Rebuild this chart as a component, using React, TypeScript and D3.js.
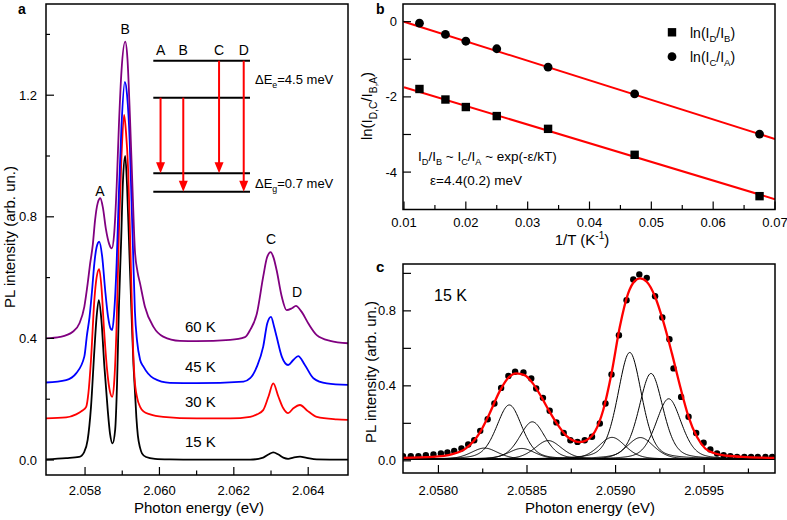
import React from 'react';
import * as d3 from 'd3';

// ---------------- Panel a : PL spectra (energy eV, intensity) ----------------
const tempLabels = ['15 K', '30 K', '45 K', '60 K'];
const spec15K: [number, number][] = [
  [2.05695, 0.002], [2.05749, 0.006], [2.05784, 0.010], [2.05798, 0.027], [2.05807, 0.066], [2.05816, 0.175],
  [2.05825, 0.36], [2.05831, 0.47], [2.05837, 0.526], [2.05844, 0.46], [2.05852, 0.307], [2.05861, 0.164],
  [2.05867, 0.088], [2.05874, 0.055], [2.05881, 0.10], [2.05886, 0.25], [2.05891, 0.5], [2.05897, 0.72],
  [2.05902, 0.92], [2.05908, 1.0], [2.05913, 0.9], [2.05919, 0.69], [2.05925, 0.48], [2.0593, 0.32],
  [2.05934, 0.23], [2.05938, 0.14], [2.05942, 0.08], [2.05948, 0.04], [2.05953, 0.022], [2.05964, 0.01],
  [2.05988, 0.004], [2.06028, 0.002], [2.061, 0.001], [2.06244, 0.001], [2.06279, 0.008], [2.06293, 0.018],
  [2.06306, 0.025], [2.0632, 0.018], [2.06333, 0.008], [2.06346, 0.004], [2.0636, 0.008], [2.06378, 0.011],
  [2.06396, 0.007], [2.06423, 0.002], [2.06507, 0.001],
];
const spec30K: [number, number][] = [
  [2.05695, 0.137], [2.05749, 0.14], [2.05776, 0.15], [2.05792, 0.162], [2.05803, 0.175], [2.05809, 0.22],
  [2.05816, 0.33], [2.05825, 0.526], [2.05831, 0.6], [2.05838, 0.628], [2.05844, 0.57], [2.05851, 0.43],
  [2.05859, 0.3], [2.05867, 0.225], [2.05873, 0.208], [2.05878, 0.25], [2.05885, 0.45], [2.05891, 0.75],
  [2.05898, 1.0], [2.05905, 1.135], [2.0591, 1.08], [2.05916, 0.95], [2.05921, 0.74], [2.05925, 0.55],
  [2.05929, 0.37], [2.05933, 0.27], [2.0594, 0.205], [2.05948, 0.175], [2.05957, 0.16], [2.05975, 0.15],
  [2.0601, 0.142], [2.061, 0.137], [2.0619, 0.137], [2.06244, 0.142], [2.06262, 0.15], [2.06279, 0.164],
  [2.06293, 0.208], [2.06306, 0.252], [2.0632, 0.208], [2.06333, 0.17], [2.06346, 0.154], [2.0636, 0.17],
  [2.06378, 0.181], [2.06396, 0.164], [2.06423, 0.142], [2.06477, 0.134], [2.06507, 0.132],
];
const spec45K: [number, number][] = [
  [2.05695, 0.255], [2.05749, 0.263], [2.05776, 0.285], [2.05798, 0.34], [2.05805, 0.41], [2.05812, 0.47],
  [2.05819, 0.56], [2.05825, 0.647], [2.05831, 0.7], [2.05838, 0.718], [2.05846, 0.67], [2.05854, 0.56],
  [2.05862, 0.47], [2.05869, 0.432], [2.05873, 0.428], [2.05878, 0.48], [2.05885, 0.65], [2.05891, 0.88],
  [2.05898, 1.1], [2.05907, 1.244], [2.05913, 1.2], [2.0592, 1.05], [2.05925, 0.85], [2.05929, 0.69],
  [2.05934, 0.49], [2.0594, 0.39], [2.05948, 0.33], [2.05957, 0.307], [2.05984, 0.269], [2.06028, 0.254],
  [2.061, 0.253], [2.06226, 0.258], [2.06244, 0.269], [2.06262, 0.307], [2.06279, 0.373], [2.0629, 0.45],
  [2.063, 0.471], [2.06308, 0.44], [2.06315, 0.406], [2.06329, 0.34], [2.06346, 0.3125], [2.0636, 0.329],
  [2.06373, 0.342], [2.06391, 0.3125], [2.06414, 0.269], [2.0645, 0.252], [2.06507, 0.247],
];
const spec60K: [number, number][] = [
  [2.05695, 0.4], [2.05733, 0.405], [2.05767, 0.422], [2.05785, 0.45], [2.05798, 0.504], [2.05807, 0.58],
  [2.05813, 0.64], [2.05821, 0.71], [2.05827, 0.79], [2.05834, 0.845], [2.05841, 0.861], [2.05848, 0.83],
  [2.05856, 0.76], [2.05865, 0.71], [2.05872, 0.696], [2.05878, 0.74], [2.05885, 0.9], [2.05891, 1.1],
  [2.05898, 1.28], [2.05908, 1.376], [2.05914, 1.32], [2.05921, 1.12], [2.05928, 0.88], [2.05934, 0.69],
  [2.05941, 0.62], [2.05948, 0.58], [2.05961, 0.504], [2.05984, 0.438], [2.0601, 0.406], [2.06055, 0.392],
  [2.061, 0.391], [2.0619, 0.395], [2.0623, 0.404], [2.06244, 0.428], [2.06262, 0.482], [2.06279, 0.603],
  [2.06289, 0.665], [2.06299, 0.684], [2.06307, 0.665], [2.06315, 0.625], [2.06329, 0.537], [2.06342, 0.493],
  [2.06356, 0.499], [2.06367, 0.507], [2.06382, 0.488], [2.064, 0.45], [2.06423, 0.411], [2.06459, 0.392],
  [2.06507, 0.384],
];
const spectra = [spec15K, spec30K, spec45K, spec60K];
const aXTicks = [2.058, 2.06, 2.062, 2.064];
const aXMinor = [2.059, 2.061, 2.063];
const aYTicks = [0, 0.4, 0.8, 1.2];
const aYMinor = [0.2, 0.6, 1.0, 1.4];
const peakNames = ['A', 'B', 'C', 'D'];
const peakLabelPos: [number, number][] = [[2.05840, 0.87], [2.05908, 1.40], [2.06300, 0.71], [2.06370, 0.535]];
const tempLabelPos: [number, number][] = [[2.0611, 0.043], [2.0611, 0.174], [2.0611, 0.29], [2.0611, 0.42]];

// level diagram (schematic inset)
const levelFrac = [0, 0.2824, 0.8595, 1.0];
const transitionNames = ['A', 'B', 'C', 'D'];
const transitionX = [0.075, 0.31, 0.68, 0.935];
const transitionFrom = [1, 1, 0, 0];
const transitionTo = [2, 3, 2, 3];

// ---------------- Panel b : Arrhenius ----------------
const invT = [0.0125, 0.0167, 0.02, 0.025, 0.0333, 0.0473, 0.0675];
const lnDB = [-1.79, -2.07, -2.27, -2.51, -2.85, -3.54, -4.64];
const lnCA = [-0.04, -0.34, -0.52, -0.72, -1.21, -1.92, -2.99];
const fitInvT = [0.01, 0.07];
const fitDB = [-1.745, -4.72];
const fitCA = [0.0, -3.12];
const bXTicks = [0.01, 0.02, 0.03, 0.04, 0.05, 0.06, 0.07];
const bXMinor = [0.015, 0.025, 0.035, 0.045, 0.055, 0.065];
const bYTicks = [0, -2, -4];
const bYMinor = [-1, -3];

// ---------------- Panel c : 15 K fit ----------------
const dotE = [
  2.0578, 2.057844, 2.057887, 2.057929, 2.057972, 2.058014, 2.058051, 2.058089, 2.05813, 2.058168, 2.058202,
  2.058236, 2.058278, 2.058316, 2.058354, 2.058395, 2.058433, 2.05848, 2.058524, 2.058552, 2.05859, 2.058628,
  2.058666, 2.058707, 2.058745, 2.058785, 2.058826, 2.058867, 2.058911, 2.058943, 2.058977, 2.059019, 2.059062,
  2.0591, 2.059134, 2.059176, 2.059223, 2.059264, 2.059304, 2.059327, 2.05937, 2.059412, 2.059455, 2.059497,
  2.059535, 2.059573, 2.05961, 2.059648, 2.059686, 2.059727, 2.059765, 2.059803, 2.059846, 2.059884,
];
const dotI = [
  0.025, 0.025, 0.025, 0.03, 0.034, 0.039, 0.045, 0.053, 0.066, 0.087, 0.11,
  0.16, 0.222, 0.306, 0.389, 0.453, 0.475, 0.471, 0.439, 0.386, 0.336, 0.267,
  0.205, 0.149, 0.11, 0.101, 0.11, 0.128, 0.199, 0.306, 0.461, 0.67, 0.857,
  0.967, 0.994, 0.976, 0.878, 0.765, 0.649, 0.493, 0.341, 0.235, 0.149, 0.096,
  0.061, 0.039, 0.03, 0.025, 0.021, 0.021, 0.021, 0.021, 0.021, 0.021,
];
const fitE = [
  2.0578, 2.057966, 2.058079, 2.058155, 2.058231, 2.058287, 2.058344, 2.058391, 2.058439, 2.058486, 2.058533,
  2.058581, 2.058628, 2.058675, 2.058722, 2.058769, 2.058798, 2.058836, 2.058883, 2.05893, 2.058977, 2.059024,
  2.059071, 2.059109, 2.059138, 2.059176, 2.059223, 2.05927, 2.059318, 2.059365, 2.059412, 2.059459, 2.059506,
  2.059563, 2.059629, 2.059742, 2.0599,
];
const fitI = [
  0.016, 0.021, 0.036, 0.066, 0.146, 0.249, 0.368, 0.439, 0.466, 0.457, 0.413,
  0.341, 0.261, 0.19, 0.133, 0.105, 0.1, 0.11, 0.155, 0.27, 0.466, 0.715,
  0.893, 0.96, 0.973, 0.955, 0.875, 0.741, 0.573, 0.395, 0.235, 0.128, 0.066,
  0.039, 0.027, 0.02, 0.016,
];
// fitted components (centre eV, height, FWHM eV)
const compCenter = [2.05826, 2.0584, 2.05847, 2.05853, 2.05862, 2.05898, 2.05908, 2.05914, 2.0592, 2.0593];
const compHeight = [0.06, 0.29, 0.058, 0.2, 0.1, 0.117, 0.57, 0.116, 0.458, 0.323];
const compFWHM = [0.00018, 0.00017, 0.00018, 0.00017, 0.00018, 0.00018, 0.00016, 0.00018, 0.00016, 0.00017];
const compBaseline = 0.008;
const compLorentzFrac = 0.35;
const cXTicks = [2.058, 2.0585, 2.059, 2.0595];
const cXMinor = [2.05825, 2.05875, 2.05925, 2.05975];
const cYTicks = [0, 0.4, 0.8];
const cYMinor = [0.2, 0.6, 1.0];

// ---------------- helpers ----------------
const FONT = 'Liberation Sans, Arial, Helvetica, sans-serif';
const colors = ['#000000', '#ff0000', '#0000ff', '#800080'];

type Seg = [string, string?];
function rich(segs: Seg[], fs: number) {
  let shift = 0;
  return segs.map(([t, k], i) => {
    const target = k === 'sub' ? fs * 0.32 : k === 'sup' ? -fs * 0.4 : 0;
    const dy = target - shift;
    shift = target;
    return (
      <tspan key={i} dy={dy !== 0 ? dy : undefined} fontSize={k ? fs * 0.68 : fs}>
        {t}
      </tspan>
    );
  });
}

function Frame({ x0, x1, y0, y1 }: { x0: number; x1: number; y0: number; y1: number }) {
  return <rect x={x0} y={y0} width={x1 - x0} height={y1 - y0} fill="none" stroke="#000" strokeWidth={1.5} />;
}

function Ticks(props: {
  xs: d3.ScaleLinear<number, number>; ys: d3.ScaleLinear<number, number>;
  xMajor: number[]; xMinor: number[]; yMajor: number[]; yMinor: number[];
  xFmt: (v: number) => string; yFmt: (v: number) => string;
  bottom: number; left: number; xLabY: number; yLabX: number; yMinorLen?: number;
}) {
  const { xs, ys, xMajor, xMinor, yMajor, yMinor, xFmt, yFmt, bottom, left, xLabY, yLabX } = props;
  const ymLen = props.yMinorLen ?? 4;
  return (
    <g>
      {xMajor.map((v) => (
        <g key={'xm' + v}>
          <line x1={xs(v)} x2={xs(v)} y1={bottom} y2={bottom - 8} stroke="#000" strokeWidth={1.2} />
          <text x={xs(v)} y={xLabY} textAnchor="middle" fontSize={13}>{xFmt(v)}</text>
        </g>
      ))}
      {xMinor.map((v) => (
        <line key={'xn' + v} x1={xs(v)} x2={xs(v)} y1={bottom} y2={bottom - 4.5} stroke="#000" strokeWidth={1.2} />
      ))}
      {yMajor.map((v) => (
        <g key={'ym' + v}>
          <line x1={left} x2={left + 8} y1={ys(v)} y2={ys(v)} stroke="#000" strokeWidth={1.2} />
          <text x={yLabX} y={ys(v) + 4.5} textAnchor="end" fontSize={13}>{yFmt(v)}</text>
        </g>
      ))}
      {yMinor.map((v) => (
        <line key={'yn' + v} x1={left} x2={left + ymLen} y1={ys(v)} y2={ys(v)} stroke="#000" strokeWidth={1.2} />
      ))}
    </g>
  );
}

export default function App() {
  // panel a
  const aL = 46, aR = 348, aT = 4, aB = 475;
  const xA = d3.scaleLinear().domain([2.05695, 2.06507]).range([aL, aR]);
  const yA = d3.scaleLinear().domain([-0.0493, 1.5]).range([aB, aT]);
  const lineA = d3.line<[number, number]>().x((d) => xA(d[0])).y((d) => yA(d[1])).curve(d3.curveMonotoneX);
  const dxs = d3.scaleLinear().domain([0, 1]).range([153.3, 250]);
  const dys = d3.scaleLinear().domain([0, 1]).range([60.7, 191.7]);

  // panel b
  const bL = 403, bR = 775, bT = 4, bB = 209.5;
  const xB = d3.scaleLinear().domain([0.01, 0.07]).range([404, 775]);
  const yB = d3.scaleLinear().domain([-5, 0.47]).range([209.7, 4]);

  // panel c
  const cL = 403, cR = 775, cT = 264, cB = 473;
  const xC = d3.scaleLinear().domain([2.0578, 2.0599]).range([cL, cR]);
  const yC = d3.scaleLinear().domain([-0.065, 1.05]).range([cB, cT]);
  const grid = d3.range(2.0578, 2.05990001, 0.000004);
  const pv = (e: number, c: number, h: number, w: number) => {
    const u = (e - c) / w;
    const g = Math.exp(-4 * Math.LN2 * u * u);
    const l = 1 / (1 + 4 * u * u);
    return compBaseline + h * (compLorentzFrac * l + (1 - compLorentzFrac) * g);
  };
  const lineC = d3.line<[number, number]>().x((d) => xC(d[0])).y((d) => yC(d[1]));
  const fitLine = d3.line<number>().x((_, i) => xC(fitE[i])).y((d) => yC(d)).curve(d3.curveMonotoneX);

  return (
    <svg width={787} height={520} style={{ position: 'absolute', left: 0, top: 0, background: '#fff' }}
      fontFamily={FONT}>
      <rect x={0} y={0} width={787} height={520} fill="#fff" />
      <defs>
        <clipPath id="clipA"><rect x={aL} y={aT} width={aR - aL} height={aB - aT} /></clipPath>
        <clipPath id="clipB"><rect x={bL} y={bT} width={bR - bL} height={bB - bT} /></clipPath>
        <clipPath id="clipC"><rect x={cL} y={cT} width={cR - cL} height={cB - cT} /></clipPath>
      </defs>

      {/* ---------- panel a ---------- */}
      <g clipPath="url(#clipA)">
        {spectra.map((s, i) => (
          <path key={i} d={lineA(s) || ''} fill="none" stroke={colors[i]} strokeWidth={1.8} strokeLinejoin="round" />
        ))}
      </g>
      <Frame x0={aL} x1={aR} y0={aT} y1={aB} />
      <Ticks xs={xA} ys={yA} xMajor={aXTicks} xMinor={aXMinor} yMajor={aYTicks} yMinor={aYMinor}
        xFmt={d3.format('.3f')} yFmt={d3.format('.1f')} bottom={aB} left={aL} xLabY={494.5} yLabX={37} />
      <text x={(aL + aR) / 2 + 2} y={513} textAnchor="middle" fontSize={15}>Photon energy (eV)</text>
      <text transform={`translate(15,${237}) rotate(-90)`} textAnchor="middle" fontSize={15}>PL intensity (arb. un.)</text>
      <text x={18} y={13.5} fontSize={14} fontWeight="bold">a</text>
      {peakNames.map((n, i) => (
        <text key={n} x={xA(peakLabelPos[i][0])} y={yA(peakLabelPos[i][1])} textAnchor="middle" fontSize={14}>{n}</text>
      ))}
      {tempLabels.map((t, i) => (
        <text key={t} x={xA(tempLabelPos[i][0])} y={yA(tempLabelPos[i][1])} textAnchor="middle" fontSize={15}>{t}</text>
      ))}
      {/* level diagram */}
      {levelFrac.map((f, i) => (
        <line key={'lv' + i} x1={dxs(0)} x2={dxs(1)} y1={dys(f)} y2={dys(f)} stroke="#000" strokeWidth={2} />
      ))}
      {transitionNames.map((n, i) => {
        const x = dxs(transitionX[i]);
        const y0 = dys(levelFrac[transitionFrom[i]]);
        const y1 = dys(levelFrac[transitionTo[i]]);
        return (
          <g key={'tr' + n}>
            <text x={x} y={55} textAnchor="middle" fontSize={14}>{n}</text>
            <line x1={x} x2={x} y1={y0} y2={y1 - 9} stroke="#ff0000" strokeWidth={2} />
            <polygon points={`${x - 4.5},${y1 - 11} ${x + 4.5},${y1 - 11} ${x},${y1}`} fill="#ff0000" />
          </g>
        );
      })}
      <text x={255} y={84} fontSize={13}>{rich([['ΔE'], ['e', 'sub'], ['=4.5 meV']], 13)}</text>
      <text x={255} y={188} fontSize={13}>{rich([['ΔE'], ['g', 'sub'], ['=0.7 meV']], 13)}</text>

      {/* ---------- panel b ---------- */}
      <g clipPath="url(#clipB)">
        <line x1={xB(fitInvT[0])} x2={xB(fitInvT[1])} y1={yB(fitCA[0])} y2={yB(fitCA[1])} stroke="#ff0000" strokeWidth={2} />
        <line x1={xB(fitInvT[0])} x2={xB(fitInvT[1])} y1={yB(fitDB[0])} y2={yB(fitDB[1])} stroke="#ff0000" strokeWidth={2} />
        {invT.map((t, i) => (
          <rect key={'sq' + i} x={xB(t) - 4.2} y={yB(lnDB[i]) - 4.2} width={8.4} height={8.4} fill="#000" />
        ))}
        {invT.map((t, i) => (
          <circle key={'ci' + i} cx={xB(t)} cy={yB(lnCA[i])} r={4.4} fill="#000" />
        ))}
      </g>
      <Frame x0={bL} x1={bR} y0={bT} y1={bB} />
      <Ticks xs={xB} ys={yB} xMajor={bXTicks} xMinor={bXMinor} yMajor={bYTicks} yMinor={bYMinor}
        xFmt={d3.format('.2f')} yFmt={(v) => (v === 0 ? '0' : String(v))} bottom={bB} left={bL}
        xLabY={226.5} yLabX={397} yMinorLen={8} />
      <text x={582} y={245} textAnchor="middle" fontSize={15}>{rich([['1/T (K'], ['-1', 'sup'], [')']], 15)}</text>
      <text transform={`translate(372,106) rotate(-90)`} textAnchor="middle" fontSize={15}>
        {rich([['ln(I'], ['D,C', 'sub'], ['/I'], ['B,A', 'sub'], [')']], 15)}
      </text>
      <text x={376} y={13.5} fontSize={14} fontWeight="bold">b</text>
      <rect x={667.8} y={28.1} width={8.4} height={8.4} fill="#000" />
      <circle cx={672} cy={56.7} r={4.4} fill="#000" />
      <text x={690} y={37.5} fontSize={14}>{rich([['ln(I'], ['D', 'sub'], ['/I'], ['B', 'sub'], [')']], 14)}</text>
      <text x={690} y={62} fontSize={14}>{rich([['ln(I'], ['C', 'sub'], ['/I'], ['A', 'sub'], [')']], 14)}</text>
      <text x={418} y={161} fontSize={13.5}>
        {rich([['I'], ['D', 'sub'], ['/I'], ['B', 'sub'], [' ~ I'], ['C', 'sub'], ['/I'], ['A', 'sub'], [' ~ exp(-ε/kT)']], 13.5)}
      </text>
      <text x={430} y={185} fontSize={13.5}>ε=4.4(0.2) meV</text>

      {/* ---------- panel c ---------- */}
      <g clipPath="url(#clipC)">
        {compCenter.map((c, i) => (
          <path key={'cp' + i} d={lineC(grid.map((e) => [e, pv(e, c, compHeight[i], compFWHM[i])] as [number, number])) || ''}
            fill="none" stroke="#000" strokeWidth={1} />
        ))}
        {dotE.map((e, i) => (
          <circle key={'dt' + i} cx={xC(e)} cy={yC(dotI[i])} r={3.2} fill="#000" />
        ))}
        <path d={fitLine(fitI) || ''} fill="none" stroke="#ff0000" strokeWidth={2.3} />
      </g>
      <Frame x0={cL} x1={cR} y0={cT} y1={cB} />
      <Ticks xs={xC} ys={yC} xMajor={cXTicks} xMinor={cXMinor} yMajor={cYTicks} yMinor={cYMinor}
        xFmt={d3.format('.4f')} yFmt={d3.format('.1f')} bottom={cB} left={cL} xLabY={494.5} yLabX={396} yMinorLen={8} />
      <text x={590} y={513} textAnchor="middle" fontSize={15}>Photon energy (eV)</text>
      <text transform={`translate(376,372) rotate(-90)`} textAnchor="middle" fontSize={15}>PL intensity (arb. un.)</text>
      <text x={376} y={272} fontSize={15} fontWeight="bold">c</text>
      <text x={434} y={301} fontSize={16}>15 K</text>
    </svg>
  );
}
